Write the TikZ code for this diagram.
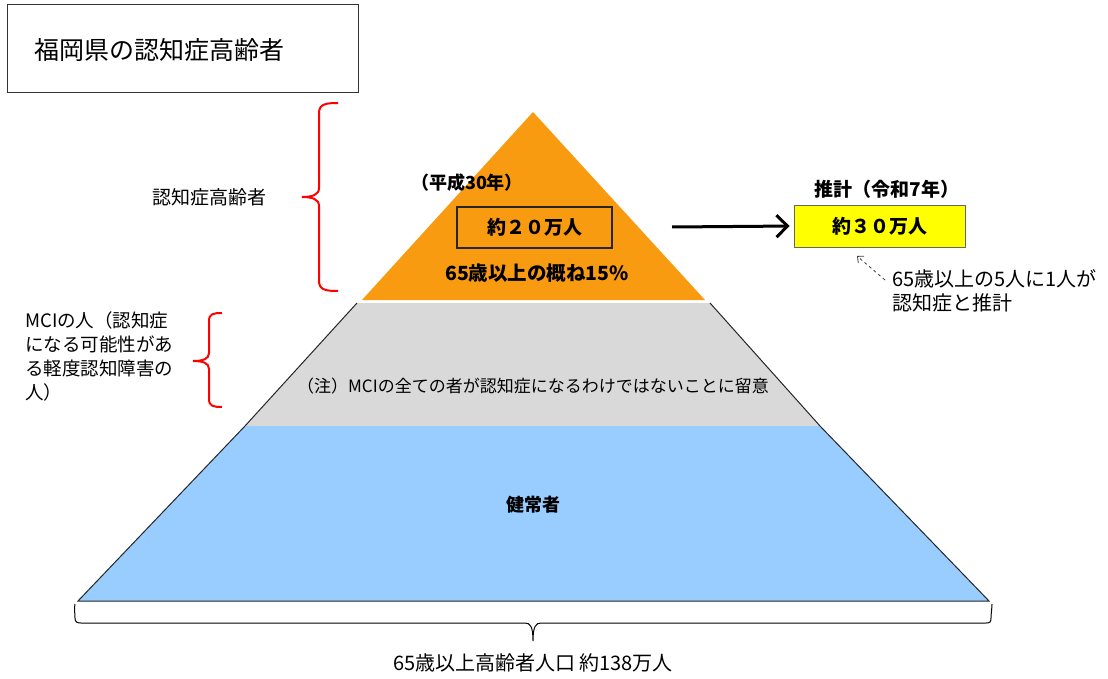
\documentclass[tikz,border=0pt]{standalone}
\usepackage{fontspec}
\setmainfont{Noto Sans CJK JP}
\usetikzlibrary{arrows.meta}
\definecolor{orng}{HTML}{F99B10}
\definecolor{gry}{HTML}{D9D9D9}
\definecolor{blu}{HTML}{99CCFF}
\definecolor{ylw}{HTML}{FFFF00}
\definecolor{bred}{HTML}{FF0000}
\begin{document}
\begin{tikzpicture}[x=1pt,y=-1pt,
  txt/.style={inner sep=0pt, font=\fontsize{19}{24}\selectfont},
  btxt/.style={inner sep=0pt, font=\fontsize{18}{22}\selectfont\bfseries},
  brace/.style={draw=bred, line width=2pt},
  bbrace/.style={draw=black, line width=1pt},
  edge/.style={draw=black!85, line width=1pt, line join=miter},
  valbox/.style={inner sep=0pt, font=\fontsize{19}{22}\selectfont\bfseries, line width=1.2pt}
]
\useasboundingbox[fill=white] (0,0) rectangle (1108,679);

% title
\node[draw=black!80, line width=1pt, minimum width=351pt, minimum height=88pt, inner sep=0pt] (titlebox) at (182.5,49) {};
\node[txt, font=\fontsize{25}{28}\selectfont, anchor=west] (title) at (34,50) {福岡県の認知症高齢者};

% pyramid
\fill[gry] (357,303) -- (710,303) -- (820,426) -- (245,426) -- cycle;
\fill[blu] (245,426) -- (820,426) -- (989,601) -- (78,601) -- cycle;
\draw[edge] (357,303) -- (245,426) -- (78,601) -- (989,601) -- (820,426) -- (710,303);
\fill[orng] (533,112) -- (705,300) -- (362,300) -- cycle;

% orange layer texts
\node[btxt] (heisei) at (467,183) {（平成30年）};
\node[valbox, draw=black!85, minimum width=155pt, minimum height=41pt] (box20) at (534.5,227.5) {約２０万人};
\node[btxt, font=\fontsize{19.5}{22}\selectfont\bfseries] (pct) at (537,273) {65歳以上の概ね15\%};

% right side
\node[btxt, font=\fontsize{19}{22}\selectfont\bfseries] (reiwa) at (887,189) {推計（令和7年）};
\node[valbox, draw=black!60, line width=0.8pt, fill=ylw, minimum width=171pt, minimum height=42pt] (box30) at (879.5,226) {約３０万人};
\coordinate (arrstart) at (672,227);
\draw[line width=3pt, -{Straight Barb[length=11pt,width=22pt,line width=3pt]}, shorten >=4pt] (arrstart) -- (box30.west);

\node[txt, font=\fontsize{20}{24}\selectfont, align=left, anchor=north west] (note) at (892,269) {65歳以上の5人に1人が\\認知症と推計};
\coordinate (dstart) at (885,280);
\coordinate (dend) at (857,256);
\draw[black!75, line width=0.8pt, dashed, -{Straight Barb[length=5pt,width=9pt,line width=0.8pt]}] (dstart) -- (dend);

% middle / bottom texts
\node[txt, font=\fontsize{17}{20}\selectfont] (mcinote) at (533,386) {（注）MCIの全ての者が認知症になるわけではないことに留意};
\node[btxt] (kenjo) at (533,505) {健常者};

% left labels and braces
\node[txt] (lbl1) at (209.5,197) {認知症高齢者};
\draw[brace] (338,103) .. controls (326,103) and (319,104) .. (319,113) -- (319,188)
  .. controls (319,195) and (312,197) .. (302,197)
  .. controls (312,197) and (319,199) .. (319,206) -- (319,281)
  .. controls (319,290) and (326,291) .. (338,291);

\node[txt, font=\fontsize{18.5}{24}\selectfont, align=left, anchor=north west] (lbl2) at (25,311) {MCIの人（認知症\\になる可能性があ\\る軽度認知障害の\\人）};
\draw[brace] (222,313) .. controls (213,313) and (209,314) .. (209,321) -- (209,353)
  .. controls (209,359) and (203,361) .. (193,361)
  .. controls (203,361) and (209,363) .. (209,369) -- (209,399)
  .. controls (209,406) and (213,407) .. (222,407);

% bottom brace
\draw[bbrace] (75,604) .. controls (74,608) and (75,614) .. (75,618)
  .. controls (75,622) and (77,623) .. (81,623) -- (525,623)
  .. controls (530,623) and (533,626) .. (533,641)
  .. controls (533,626) and (536,623) .. (541,623) -- (986,623)
  .. controls (990,623) and (991,622) .. (991,618)
  .. controls (991,614) and (992,608) .. (992,604);
\node[txt, font=\fontsize{20}{22}\selectfont] (total) at (533,663) {65歳以上高齢者人口 約138万人};
\end{tikzpicture}
\end{document}
